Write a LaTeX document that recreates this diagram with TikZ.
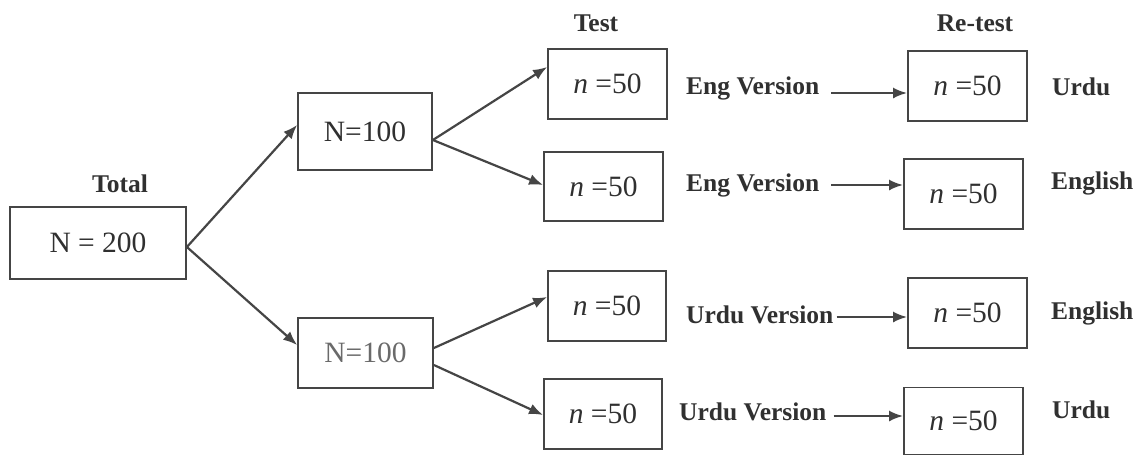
\documentclass[tikz,border=0pt]{standalone}
\usepackage{fontspec}
\setmainfont{Liberation Serif}
\usetikzlibrary{arrows.meta}
\definecolor{ln}{HTML}{454545}
\definecolor{tx}{HTML}{303030}
\definecolor{tl}{HTML}{6A6A6A}
\begin{document}
\begin{tikzpicture}[x=1pt,y=-1pt,
  box/.style={draw=ln,line width=1.8pt,inner sep=0pt,text=tx,font=\fontsize{29.5}{32}\selectfont},
  lbl/.style={text=tx,font=\bfseries\fontsize{25.5}{28}\selectfont,inner sep=0pt},
  arr/.style={draw=ln,line width=2.2pt,-{Latex[length=14pt,width=11pt]}}]
\useasboundingbox[fill=white] (0,0) rectangle (1141,456);
% boxes
\node[box,minimum width=176pt,minimum height=72pt] (tot) at (98,243) {N = 200};
\node[box,minimum width=134pt,minimum height=77pt] (a) at (365,131.5) {N=100};
\node[box,minimum width=135pt,minimum height=70pt,text=tl] (b) at (365.5,353) {N=100};
\node[box,minimum width=119pt,minimum height=70pt] (t1) at (607.5,84) {\textit{n} =50};
\node[box,minimum width=119pt,minimum height=69pt] (t2) at (603.5,186.5) {\textit{n} =50};
\node[box,minimum width=118pt,minimum height=70pt] (t3) at (607,306) {\textit{n} =50};
\node[box,minimum width=118pt,minimum height=70pt] (t4) at (603,414) {\textit{n} =50};
\node[box,minimum width=119pt,minimum height=70pt] (r1) at (967.5,86) {\textit{n} =50};
\node[box,minimum width=119pt,minimum height=70pt] (r2) at (963.5,194) {\textit{n} =50};
\node[box,minimum width=119pt,minimum height=70pt] (r3) at (967.5,313) {\textit{n} =50};
\node[box,minimum width=119pt,minimum height=67pt] (r4) at (963.5,421) {\textit{n} =50};
% labels
\node[lbl] (ltot) at (120,184) {Total};
\node[lbl] (ltest) at (596,23) {Test};
\node[lbl] (lre) at (975,23) {Re-test};
\node[lbl,anchor=west] (e1) at (686,88) {Eng Version};
\node[lbl,anchor=west] (e2) at (686,185) {Eng Version};
\node[lbl,anchor=west] (e3) at (686,315) {Urdu Version};
\node[lbl,anchor=west] (e4) at (679,412) {Urdu Version};
\node[lbl,anchor=west] (o1) at (1052,87) {Urdu};
\node[lbl,anchor=west] (o2) at (1051,183) {English};
\node[lbl,anchor=west] (o3) at (1051,313) {English};
\node[lbl,anchor=west] (o4) at (1052,410) {Urdu};
% connectors
\draw[arr] ([yshift=-4pt]tot.east) -- ([yshift=6.5pt]a.west);
\draw[arr] ([yshift=-4pt]tot.east) -- ([yshift=8pt]b.west);
\draw[arr] ([yshift=-8.5pt]a.east) -- ([yshift=17pt]t1.west);
\draw[arr] ([yshift=-8.5pt]a.east) -- ([yshift=1.5pt]t2.west);
\draw[arr] ([yshift=5pt]b.east) -- ([yshift=9pt]t3.west);
\draw[arr] ([yshift=-12pt]b.east) -- ([yshift=-1pt]t4.west);
\draw[arr] ([xshift=12pt,yshift=-5pt]e1.east) coordinate (s1) -- (s1 -| r1.west);
\draw[arr] ([xshift=12pt,yshift=0pt]e2.east) coordinate (s2) -- (s2 -| r2.west);
\draw[arr] ([xshift=3pt,yshift=-2pt]e3.east) coordinate (s3) -- (s3 -| r3.west);
\draw[arr] ([xshift=7pt,yshift=-4pt]e4.east) coordinate (s4) -- (s4 -| r4.west);
\end{tikzpicture}
\end{document}
